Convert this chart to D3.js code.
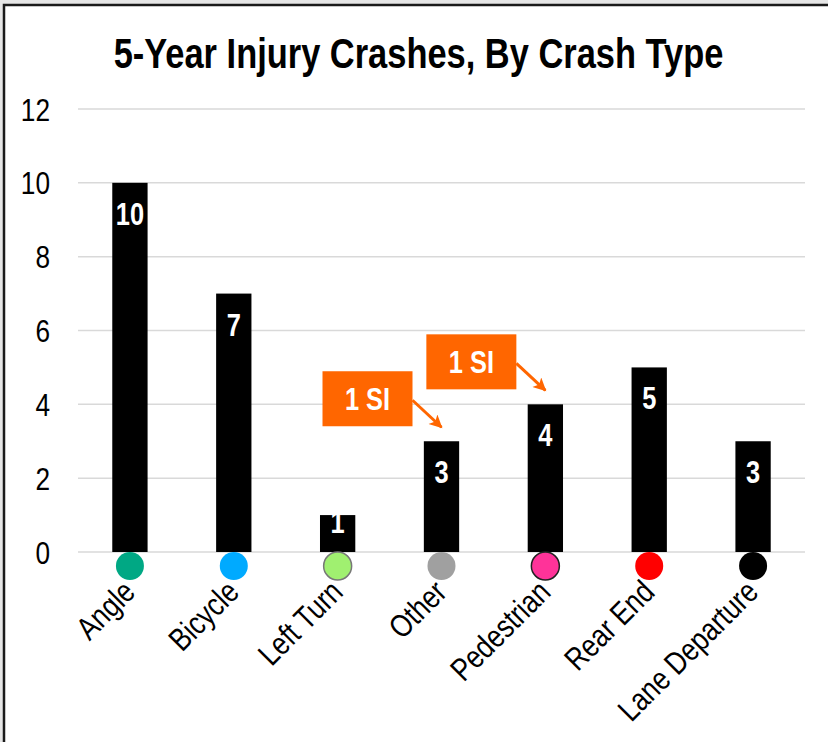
<!DOCTYPE html>
<html>
<head>
<meta charset="utf-8">
<script src="https://cdn.jsdelivr.net/npm/d3@7"></script>
<style>
  body { margin: 0; background: #e6e6e6; }
  svg { display: block; }
</style>
</head>
<body>
<svg id="chart" width="828" height="742"></svg>
<script>
// data
var CATEGORIES = ["Angle", "Bicycle", "Left Turn", "Other", "Pedestrian", "Rear End", "Lane Departure"];
var CRASHES = [10, 7, 1, 3, 4, 5, 3];
var DOT_COLORS = ["#00a884", "#00aaff", "#a0f070", "#a0a0a0", "#ff3399", "#ff0000", "#000000"];
var DOT_OUTLINE = ["none", "none", "#777777", "none", "#222222", "none", "none"];
var Y_TICKS = [0, 2, 4, 6, 8, 10, 12];
var NOTE_CATS = ["Other", "Pedestrian"];
var NOTE_TEXT = ["1 SI", "1 SI"];
var TITLE = "5-Year Injury Crashes, By Crash Type";

// no narrow font installed, so squeeze Liberation Sans sideways
var FONT = "'Liberation Sans',Arial,sans-serif";
var SQUEEZE = 0.82;
var ORANGE = "#ff6600";

var SVG = d3.select("svg#chart");

// page background + panel with top/left border
SVG.append("rect").attr("width", 828).attr("height", 742).attr("fill", "#e6e6e6");
SVG.append("rect").attr("x", 4).attr("y", 5).attr("width", 830).attr("height", 745).attr("fill", "#fff");
SVG.append("path").attr("d", "M4,742 L4,5 L828,5")
   .attr("fill", "none").attr("stroke", "#1a1a1a").attr("stroke-width", 2.5);

var x = d3.scaleBand().domain(CATEGORIES).range([78, 805]).paddingInner(0.66).paddingOuter(0.33);
var y = d3.scaleLinear().domain([0, 12]).range([552, 109]);

function narrow(px, py, rot) {
  return "translate(" + px + "," + py + ")" + (rot ? " rotate(" + rot + ")" : "") + " scale(" + SQUEEZE + ",1)";
}

// title
SVG.append("text")
   .attr("transform", narrow(418.5, 68))
   .attr("text-anchor", "middle")
   .style("font-family", FONT).style("font-weight", "bold").style("font-size", "42px")
   .text(TITLE);

// gridlines
SVG.append("g").selectAll("line").data(Y_TICKS).enter().append("line")
   .attr("x1", 78).attr("x2", 805)
   .attr("y1", function(d){ return y(d); }).attr("y2", function(d){ return y(d); })
   .attr("stroke", "#d9d9d9").attr("stroke-width", 1.5);

// y axis labels
SVG.append("g").selectAll("text").data(Y_TICKS).enter().append("text")
   .attr("transform", function(d){ return narrow(50, y(d) + 11.5); })
   .attr("text-anchor", "end")
   .style("font-family", FONT).style("font-size", "32px")
   .attr("fill", "#000")
   .text(function(d){ return d; });

// bars
SVG.append("g").selectAll("rect").data(CATEGORIES).enter().append("rect")
   .attr("x", function(d){ return x(d); })
   .attr("y", function(d, i){ return y(CRASHES[i]); })
   .attr("width", x.bandwidth())
   .attr("height", function(d, i){ return y(0) - y(CRASHES[i]); })
   .attr("fill", "#000");

// value labels, inside end
SVG.append("g").selectAll("text").data(CATEGORIES).enter().append("text")
   .attr("transform", function(d, i){
       return narrow(x(d) + x.bandwidth() / 2, Math.min(y(CRASHES[i]) + 42, y(0) - 19));
   })
   .attr("text-anchor", "middle")
   .attr("fill", "#fff")
   .style("font-family", FONT).style("font-weight", "bold").style("font-size", "31px")
   .text(function(d, i){ return CRASHES[i]; });

// coloured dots under the axis
SVG.append("g").selectAll("circle").data(CATEGORIES).enter().append("circle")
   .attr("cx", function(d){ return x(d) + x.bandwidth() / 2; })
   .attr("cy", 566)
   .attr("r", 14)
   .attr("fill", function(d, i){ return DOT_COLORS[i]; })
   .attr("stroke", function(d, i){ return DOT_OUTLINE[i]; })
   .attr("stroke-width", 1.5);

// category labels
SVG.append("g").selectAll("text").data(CATEGORIES).enter().append("text")
   .attr("transform", function(d){
       return narrow(x(d) + x.bandwidth() / 2 + 7, 594, -45);
   })
   .attr("text-anchor", "end")
   .style("font-family", FONT).style("font-size", "32px")
   .attr("fill", "#000")
   .text(function(d){ return d; });

// SI call-outs
var defs = SVG.append("defs");
defs.append("marker").attr("id", "arrowhead")
    .attr("viewBox", "0 0 10 10").attr("refX", 9).attr("refY", 5)
    .attr("markerWidth", 16).attr("markerHeight", 13).attr("orient", "auto")
    .attr("markerUnits", "userSpaceOnUse")
    .append("path").attr("d", "M0,0 L10,5 L0,10 L2.5,5 Z").attr("fill", ORANGE);

var notes = SVG.append("g").selectAll("g").data(NOTE_CATS).enter().append("g")
   .attr("transform", function(d){
       var i = CATEGORIES.indexOf(d);
       var tx = x(d) + x.bandwidth() / 2 + 3;
       var ty = y(CRASHES[i]) - 11;
       return "translate(" + tx + "," + ty + ")";
   });

notes.append("rect")
   .attr("x", -122).attr("y", -59).attr("width", 90).attr("height", 55)
   .attr("fill", ORANGE);
notes.append("text")
   .attr("transform", narrow(-77, -20))
   .attr("text-anchor", "middle").attr("fill", "#fff")
   .style("font-family", FONT).style("font-weight", "bold").style("font-size", "31px")
   .text(function(d, i){ return NOTE_TEXT[i]; });
notes.append("line")
   .attr("x1", -32).attr("y1", -30).attr("x2", -3).attr("y2", -3)
   .attr("stroke", ORANGE).attr("stroke-width", 3)
   .attr("marker-end", "url(#arrowhead)");
</script>
</body>
</html>
